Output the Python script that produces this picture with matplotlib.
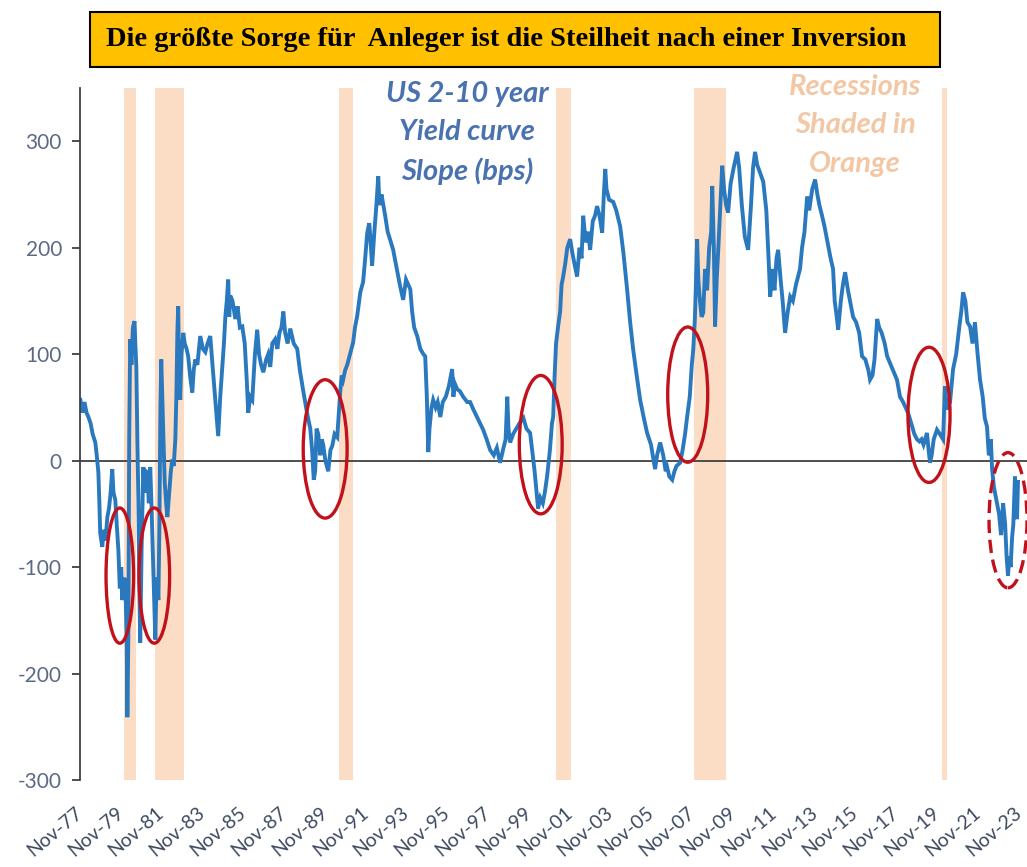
import matplotlib
matplotlib.use("Agg")
import matplotlib.pyplot as plt
from matplotlib.patches import Ellipse, Rectangle

# ---------------- data ----------------
years = [
    1977.85, 1977.95, 1978.05, 1978.15, 1978.24, 1978.35, 1978.45, 1978.58, 1978.65, 1978.73,
    1978.78, 1978.82, 1978.92, 1979.00, 1979.08, 1979.17, 1979.25, 1979.33, 1979.41, 1979.47,
    1979.56, 1979.63, 1979.71, 1979.78, 1979.85, 1979.90, 1980.00, 1980.05, 1980.12, 1980.15,
    1980.18, 1980.20, 1980.24, 1980.29, 1980.35, 1980.42, 1980.50, 1980.54, 1980.59, 1980.64,
    1980.69, 1980.74, 1980.78, 1980.85, 1980.93, 1981.00, 1981.06, 1981.13, 1981.20, 1981.27,
    1981.33, 1981.37, 1981.45, 1981.52, 1981.58, 1981.67, 1981.72, 1981.77, 1981.81, 1981.86,
    1981.91, 1981.98, 1982.05, 1982.11, 1982.20, 1982.28, 1982.35, 1982.42, 1982.50, 1982.55,
    1982.60, 1982.64, 1982.68, 1982.74, 1982.80, 1982.89, 1982.96, 1983.05, 1983.13, 1983.22,
    1983.33, 1983.40, 1983.48, 1983.58, 1983.72, 1983.85, 1983.97, 1984.08, 1984.21, 1984.32,
    1984.46, 1984.53, 1984.60, 1984.70, 1984.80, 1984.88, 1984.95, 1985.02, 1985.09, 1985.14,
    1985.19, 1985.30, 1985.44, 1985.55, 1985.66, 1985.78, 1985.90, 1986.00, 1986.07, 1986.17,
    1986.27, 1986.40, 1986.51, 1986.60, 1986.70, 1986.81, 1986.95, 1987.05, 1987.15, 1987.25,
    1987.39, 1987.50, 1987.60, 1987.70, 1987.79, 1987.88, 1988.00, 1988.13, 1988.30, 1988.47,
    1988.60, 1988.77, 1988.95, 1989.11, 1989.20, 1989.28, 1989.35, 1989.42, 1989.50, 1989.60,
    1989.68, 1989.75, 1989.85, 1989.99, 1990.10, 1990.19, 1990.30, 1990.43, 1990.53, 1990.58,
    1990.65, 1990.72, 1990.82, 1990.92, 1991.07, 1991.21, 1991.30, 1991.41, 1991.56, 1991.70,
    1991.80, 1991.90, 1992.00, 1992.05, 1992.14, 1992.25, 1992.35, 1992.44, 1992.50, 1992.60,
    1992.78, 1992.90, 1993.03, 1993.17, 1993.30, 1993.50, 1993.66, 1993.80, 1994.01, 1994.10,
    1994.20, 1994.35, 1994.50, 1994.65, 1994.74, 1994.82, 1994.89, 1994.95, 1995.05, 1995.13,
    1995.25, 1995.35, 1995.48, 1995.60, 1995.75, 1995.90, 1996.06, 1996.12, 1996.20, 1996.31,
    1996.45, 1996.60, 1996.80, 1996.94, 1997.10, 1997.30, 1997.58, 1997.75, 1997.92, 1998.10,
    1998.25, 1998.41, 1998.55, 1998.68, 1998.76, 1998.82, 1998.90, 1999.05, 1999.20, 1999.39,
    1999.55, 1999.70, 1999.88, 1999.98, 2000.10, 2000.20, 2000.27, 2000.38, 2000.50, 2000.60,
    2000.71, 2000.85, 2000.95, 2001.01, 2001.08, 2001.15, 2001.25, 2001.35, 2001.42, 2001.50,
    2001.60, 2001.70, 2001.84, 2001.95, 2002.05, 2002.18, 2002.30, 2002.40, 2002.48, 2002.60,
    2002.72, 2002.82, 2002.95, 2003.06, 2003.16, 2003.28, 2003.41, 2003.49, 2003.56, 2003.62,
    2003.75, 2003.95, 2004.10, 2004.29, 2004.45, 2004.63, 2004.78, 2004.93, 2005.10, 2005.27,
    2005.45, 2005.61, 2005.80, 2006.00, 2006.10, 2006.25, 2006.40, 2006.52, 2006.59, 2006.70,
    2006.84, 2006.95, 2007.05, 2007.23, 2007.35, 2007.47, 2007.57, 2007.70, 2007.80, 2007.87,
    2007.95, 2008.00, 2008.06, 2008.12, 2008.20, 2008.28, 2008.36, 2008.45, 2008.55, 2008.65,
    2008.75, 2008.80, 2008.88, 2008.94, 2009.02, 2009.10, 2009.20, 2009.29, 2009.38, 2009.48,
    2009.58, 2009.70, 2009.85, 2010.02, 2010.12, 2010.25, 2010.40, 2010.56, 2010.70, 2010.80,
    2010.90, 2011.00, 2011.15, 2011.30, 2011.45, 2011.56, 2011.64, 2011.75, 2011.85, 2011.95,
    2012.03, 2012.15, 2012.25, 2012.37, 2012.50, 2012.62, 2012.75, 2012.90, 2013.10, 2013.20,
    2013.32, 2013.45, 2013.55, 2013.70, 2013.84, 2013.95, 2014.05, 2014.18, 2014.30, 2014.45,
    2014.60, 2014.72, 2014.80, 2014.90, 2014.97, 2015.10, 2015.20, 2015.31, 2015.45, 2015.55,
    2015.70, 2015.85, 2016.00, 2016.14, 2016.30, 2016.45, 2016.53, 2016.65, 2016.75, 2016.88,
    2016.98, 2017.10, 2017.25, 2017.37, 2017.50, 2017.65, 2017.85, 2018.00, 2018.15, 2018.39,
    2018.55, 2018.70, 2018.83, 2018.95, 2019.05, 2019.15, 2019.32, 2019.40, 2019.47, 2019.55,
    2019.65, 2019.81, 2019.95, 2020.11, 2020.20, 2020.30, 2020.45, 2020.60, 2020.75, 2020.90,
    2021.00, 2021.09, 2021.20, 2021.30, 2021.43, 2021.55, 2021.67, 2021.80, 2021.92, 2022.05,
    2022.15, 2022.26, 2022.35, 2022.45, 2022.51, 2022.60, 2022.75, 2022.85, 2022.95, 2023.05,
    2023.15, 2023.22, 2023.29, 2023.35, 2023.42, 2023.49, 2023.55, 2023.63, 2023.68, 2023.73,
    2023.78,
]
slope_bps = [
    57, 45, 55, 45, 41, 35, 25, 17, 5, -11,
    -40, -68, -81, -65, -75, -53, -45, -30, -8, -30,
    -37, -60, -84, -120, -100, -131, -110, -115, -170, -241,
    -190, -162, 20, 114, 90, 125, 131, 110, 88, 20,
    -37, -120, -171, -80, -6, -30, -10, -11, -40, -6,
    -40, -68, -120, -168, -110, -131, -60, 50, 95, 60,
    26, -20, -40, -53, -30, -10, 1, -5, 20, 60,
    120, 145, 90, 57, 100, 120, 110, 105, 98, 80,
    64, 85, 95, 90, 117, 105, 102, 110, 117, 90,
    57, 40, 23, 60, 88, 110, 135, 150, 170, 135,
    155, 150, 133, 145, 125, 126, 110, 75, 45, 60,
    57, 100, 123, 100, 90, 83, 95, 100, 88, 110,
    114, 105, 120, 125, 140, 120, 110, 124, 110, 105,
    85, 65, 45, 30, 10, -18, -10, 30, 25, 5,
    20, 14, 0, -10, 10, 14, 25, 22, 50, 65,
    80, 76, 85, 90, 101, 111, 125, 136, 158, 168,
    190, 214, 223, 210, 183, 215, 240, 267, 240, 250,
    230, 215, 207, 198, 185, 165, 151, 170, 161, 140,
    125, 117, 105, 100, 98, 60, 8, 30, 50, 57,
    50, 55, 41, 55, 60, 70, 86, 60, 72, 67,
    65, 60, 55, 55, 48, 40, 29, 20, 10, 5,
    12, -2, 10, 20, 60, 30, 17, 25, 30, 36,
    40, 30, 26, 10, -10, -30, -45, -35, -40, -30,
    -15, 10, 35, 41, 80, 110, 126, 140, 165, 173,
    185, 200, 208, 195, 185, 173, 200, 190, 230, 205,
    215, 198, 225, 230, 239, 230, 214, 250, 274, 255,
    245, 243, 235, 220, 195, 161, 130, 104, 80, 57,
    40, 26, 15, -8, 5, 17, 5, -10, -6, -15,
    -18, -10, -5, -2, 10, 25, 41, 60, 90, 104,
    133, 165, 208, 170, 150, 135, 139, 180, 160, 200,
    215, 258, 200, 126, 170, 200, 240, 277, 255, 240,
    233, 260, 275, 290, 275, 240, 210, 198, 240, 275,
    290, 278, 270, 262, 235, 190, 154, 180, 160, 190,
    198, 170, 150, 120, 140, 154, 150, 165, 180, 200,
    215, 248, 235, 255, 264, 250, 240, 230, 220, 205,
    190, 180, 150, 135, 123, 150, 165, 177, 160, 150,
    135, 130, 120, 98, 95, 85, 76, 80, 95, 133,
    125, 120, 110, 98, 92, 85, 76, 60, 55, 45,
    35, 25, 20, 18, 20, 15, 26, 10, -2, 5,
    20, 29, 25, 20, 70, 48, 55, 86, 100, 125,
    140, 158, 150, 130, 126, 110, 130, 100, 76, 60,
    40, 32, 5, 20, -8, -25, -40, -50, -70, -40,
    -60, -90, -108, -90, -100, -72, -60, -15, -40, -55,
    -20,
]

recession_start = [1980.00, 1981.50, 1990.50, 2001.17, 2007.92, 2020.08]
recession_end = [1980.58, 1982.92, 1991.21, 2001.88, 2009.46, 2020.30]

tick_years = [1977.83 + 2 * i for i in range(24)]
tick_labels = ["Nov-77", "Nov-79", "Nov-81", "Nov-83", "Nov-85", "Nov-87", "Nov-89", "Nov-91",
               "Nov-93", "Nov-95", "Nov-97", "Nov-99", "Nov-01", "Nov-03", "Nov-05", "Nov-07",
               "Nov-09", "Nov-11", "Nov-13", "Nov-15", "Nov-17", "Nov-19", "Nov-21", "Nov-23"]
y_ticks = [-300, -200, -100, 0, 100, 200, 300]

title_text = "Die größte Sorge für  Anleger ist die Steilheit nach einer Inversion"
series_label = "US 2-10 year\nYield curve\nSlope (bps)"
recession_label = "Recessions\nShaded in\nOrange"

# inversion markers: (center year, center value, width years, height bps, dashed)
markers = [
    (1979.78, -108, 1.35, 127, False),
    (1981.47, -108, 1.50, 127, False),
    (1989.84, 11, 2.15, 130, False),
    (2000.40, 15, 2.10, 130, False),
    (2007.60, 62, 1.96, 127, False),
    (2019.42, 43, 2.06, 127, False),
    (2023.29, -56, 1.86, 127, True),
]

# ---------------- figure ----------------
W, H = 1027, 867
fig = plt.figure(figsize=(W / 100, H / 100), dpi=100)
fig.patch.set_facecolor("white")

ax = fig.add_axes([80 / W, (H - 780) / H, (W - 80) / W, (780 - 88) / H])
ax.set_xlim(1977.85, 2024.22)
ax.set_ylim(-300, 350)

for s, e in zip(recession_start, recession_end):
    ax.axvspan(s, e, color="#FBDCC4", lw=0, zorder=0)

ax.axhline(0, color="#404040", lw=1.3, zorder=1)
ax.plot(years, slope_bps, color="#2A79BF", lw=2.8, solid_joinstyle="miter", zorder=2)

for cx, cy, w, h, dashed in markers:
    e = Ellipse((cx, cy), w, h, fill=False, edgecolor="#C1121C", lw=2.4,
                linestyle=(0, (4, 2)) if dashed else "-", zorder=3, clip_on=False)
    ax.add_patch(e)

for side in ("top", "right", "bottom"):
    ax.spines[side].set_visible(False)
ax.spines["left"].set_color("#404040")
ax.spines["left"].set_linewidth(1.3)

ax.set_yticks(y_ticks)
ax.set_yticklabels([str(v) for v in y_ticks], fontsize=15, color="#5B6B84", family="Lato")
ax.tick_params(axis="y", direction="out", length=6, width=1.3, color="#404040", pad=7)

ax.set_xticks(tick_years)
ax.set_xticklabels(tick_labels, rotation=40, ha="right", va="center", rotation_mode="anchor",
                   fontsize=14, color="#3E4A60", family="Lato")
ax.tick_params(axis="x", length=0, pad=22)

ax.text(1996.8, 357, series_label, ha="center", va="top", fontsize=21, fontweight="bold",
        fontstyle="italic", color="#4A72B0", family="Lato", linespacing=1.58, zorder=4,
        clip_on=False)
ax.text(2015.8, 363, recession_label, ha="center", va="top", fontsize=21, fontweight="bold",
        fontstyle="italic", color="#F3C7A4", family="Lato", linespacing=1.58, zorder=4,
        clip_on=False)

# title box
fig.patches.append(Rectangle((90 / W, (H - 67) / H), 850 / W, 55 / H, transform=fig.transFigure,
                             facecolor="#FFC000", edgecolor="black", lw=1.5, zorder=5))
fig.text(106 / W, (H - 40) / H, title_text, ha="left", va="center", fontsize=20.5,
         fontweight="bold", family="Liberation Serif", color="black", zorder=6)

fig.savefig("out.png", dpi=100)
